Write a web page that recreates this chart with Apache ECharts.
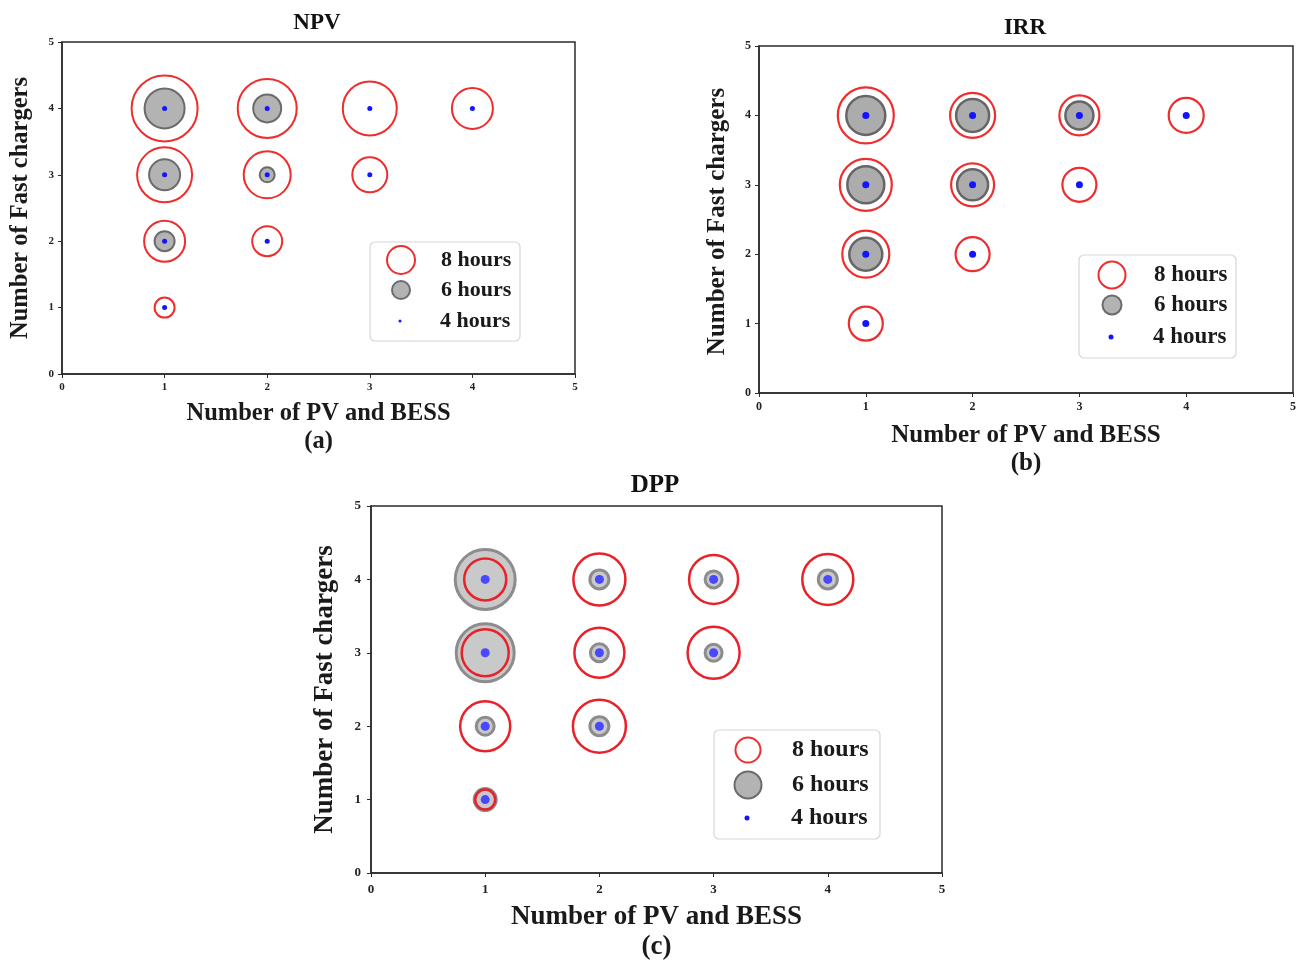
<!DOCTYPE html>
<html>
<head>
<meta charset="utf-8">
<script src="https://cdn.jsdelivr.net/npm/echarts@6/dist/echarts.min.js"></script>
<style>
html,body{margin:0;padding:0;background:#fff;}
#chart{width:1301px;height:963px;}
</style>
</head>
<body>
<div id="chart"></div>
<script>
// ---------------- DATA ----------------
// grid positions (Number of PV and BESS, Number of Fast chargers)
const points = [[1,4],[2,4],[3,4],[4,4],[1,3],[2,3],[3,3],[1,2],[2,2],[1,1]];
const seriesNames = ['8 hours', '6 hours', '4 hours'];
const tickLabels = ['0','1','2','3','4','5'];
// bubble magnitudes (marker diameter) for each point, same order as `points`; 0 = no marker
const npv8 = [66, 59, 54, 41, 55, 47, 35, 41, 30, 20];
const npv6 = [40, 28, 0, 0, 31, 15, 0, 20, 0, 0];
const npv4 = [5, 5, 5, 5, 5, 5, 5, 5, 5, 5];
const irr8 = [56, 45, 40, 35, 52, 43, 34, 47, 34, 34];
const irr6 = [39, 33, 28, 0, 37, 31, 0, 33, 0, 0];
const irr4 = [7, 7, 7, 7, 7, 7, 7, 7, 7, 7];
const dpp8 = [42, 52, 49, 51, 47, 50, 52, 50, 53, 20];
const dpp6 = [60, 19, 17, 19, 58, 18, 17, 18, 19, 22];
const dpp4 = [9, 9, 9, 9, 9, 9, 9, 9, 9, 9];
const titles = ['NPV', 'IRR', 'DPP'];
const subCaptions = ['(a)', '(b)', '(c)'];
const xName = 'Number of PV and BESS';
const yName = 'Number of Fast chargers';

// ---------------- LAYOUT / STYLE ----------------
const FONT = '"Liberation Serif", "Times New Roman", serif';
const panels = [
  { sizes: [npv8, npv6, npv4], grid: {left: 62, top: 42, width: 513, height: 332},
    titleXY: [317, 23], titleSize: 23, nameSize: 24.5, tickSize: 11, tickMargin: 8,
    xGap: 26, xLH: 28, yGap: 29, yPad: 0,
    red: '#ee2d2d', redW: 2, gray: '#b3b3b3', grayB: '#6b6b6b', grayW: 2, blue: '#1414ff',
    legend: {box: [370, 242, 150, 99], cx: 400, textX: 440, ys: [259, 290, 321], sz: [28, 18, 3], font: 22} },
  { sizes: [irr8, irr6, irr4], grid: {left: 759, top: 46, width: 534, height: 347},
    titleXY: [1025, 28], titleSize: 23, nameSize: 25, tickSize: 12, tickMargin: 8,
    xGap: 29, xLH: 28, yGap: 29, yPad: 4,
    red: '#ee2d2d', redW: 2.2, gray: '#acacac', grayB: '#666666', grayW: 2.5, blue: '#1414ff',
    legend: {box: [1079, 255, 157, 103], cx: 1111, textX: 1153, ys: [274, 305, 337], sz: [27, 19, 5], font: 23} },
  { sizes: [dpp8, dpp6, dpp4], grid: {left: 371, top: 506, width: 571, height: 371},
    titleXY: [655, 486], titleSize: 25, nameSize: 27, tickSize: 13, tickMargin: 10,
    xGap: 29, xLH: 30, yGap: 32, yPad: 0,
    red: '#e8222a', redW: 2.5, gray: '#c9c9c9', grayB: '#8c8c8c', grayW: 3, blue: '#4848ff',
    legend: {box: [714, 730, 166, 109], cx: 747, textX: 791, ys: [749, 784, 818], sz: [25, 27, 5], font: 24} }
];

function pts(sizes) {
  const out = [];
  points.forEach((p, i) => { if (sizes[i] > 0) out.push([p[0], p[1], sizes[i]]); });
  return out;
}

const grids = [], xAxes = [], yAxes = [], series = [], legends = [], graphics = [];
panels.forEach((P, i) => {
  grids.push(Object.assign({show: true, borderColor: '#2b2b2b', borderWidth: 1.5, backgroundColor: '#fff'}, P.grid));
  const axisCommon = {
    type: 'value', gridIndex: i, min: 0, max: 5, interval: 1,
    axisLine: {show: true, lineStyle: {color: '#2b2b2b', width: 1.5}},
    axisTick: {show: true, length: 4, lineStyle: {color: '#2b2b2b', width: 1}},
    splitLine: {show: false},
    axisLabel: {fontFamily: FONT, fontWeight: 'bold', fontSize: P.tickSize, color: '#222', margin: P.tickMargin,
                formatter: v => tickLabels[Math.round(v)]},
    nameLocation: 'middle'
  };
  xAxes.push(Object.assign({}, axisCommon, {
    name: xName + '\n' + subCaptions[i], nameGap: P.xGap,
    nameTextStyle: {fontFamily: FONT, fontWeight: 'bold', fontSize: P.nameSize, color: '#1a1a1a', lineHeight: P.xLH}
  }));
  yAxes.push(Object.assign({}, axisCommon, {
    name: yName, nameGap: P.yGap,
    nameTextStyle: {fontFamily: FONT, fontWeight: 'bold', fontSize: P.nameSize, color: '#1a1a1a', padding: [0, P.yPad, 0, 0]}
  }));
  const [s8, s6, s4] = P.sizes;
  // draw order: 6h (filled) below, 8h ring above it, 4h dot on top
  series.push({type: 'scatter', name: seriesNames[1], xAxisIndex: i, yAxisIndex: i, data: pts(s6),
    symbol: 'circle', symbolSize: v => v[2], z: 2,
    itemStyle: {color: P.gray, borderColor: P.grayB, borderWidth: P.grayW, opacity: 1}});
  series.push({type: 'scatter', name: seriesNames[0], xAxisIndex: i, yAxisIndex: i, data: pts(s8),
    symbol: 'circle', symbolSize: v => v[2], z: 3,
    itemStyle: {color: 'rgba(255,255,255,0)', borderColor: P.red, borderWidth: P.redW, opacity: 1}});
  series.push({type: 'scatter', name: seriesNames[2], xAxisIndex: i, yAxisIndex: i, data: pts(s4),
    symbol: 'circle', symbolSize: v => v[2], z: 4,
    itemStyle: {color: P.blue, borderWidth: 0, opacity: 1}});

  const L = P.legend;
  graphics.push({type: 'rect', z: 5, shape: {x: L.box[0], y: L.box[1], width: L.box[2], height: L.box[3], r: 5},
    style: {fill: '#fff', stroke: '#d6d6d6', lineWidth: 1.2}});
  graphics.push({type: 'text', z: 5, x: P.titleXY[0], y: P.titleXY[1],
    style: {text: titles[i], fill: '#111', font: 'bold ' + P.titleSize + 'px ' + FONT, textAlign: 'center', textVerticalAlign: 'middle'}});
  seriesNames.forEach((nm, k) => {
    const W = 2 * (L.textX - 5 - L.cx);
    const H = L.sz[k];
    legends.push({
      data: [nm], orient: 'horizontal', padding: 0, z: 10,
      left: L.cx - H / 2, top: L.ys[k] - Math.max(H, L.font) / 2,
      itemWidth: W, itemHeight: H, selectedMode: false,
      textStyle: {fontFamily: FONT, fontWeight: 'bold', fontSize: L.font, lineHeight: L.font, color: '#1a1a1a'}
    });
  });
});

const chart = echarts.init(document.getElementById('chart'), null, {renderer: 'canvas'});
chart.setOption({
  animation: false,
  backgroundColor: '#fff',
  grid: grids, xAxis: xAxes, yAxis: yAxes, series: series, legend: legends,
  graphic: {elements: graphics}
});
</script>
</body>
</html>
